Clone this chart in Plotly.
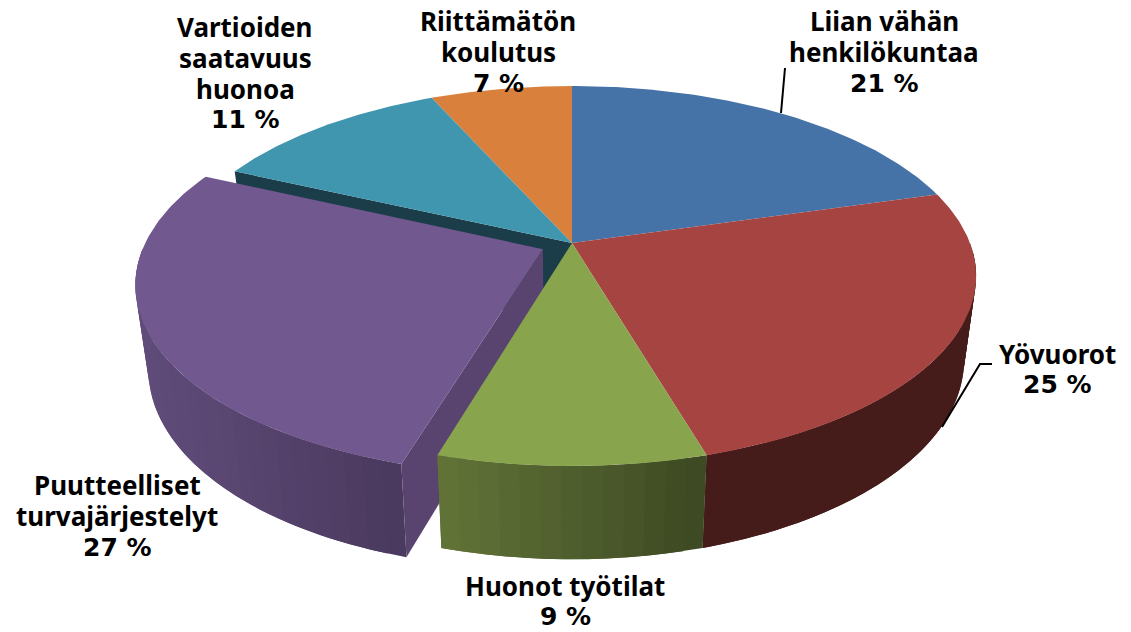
import numpy as np
import plotly.graph_objects as go

# slices, clockwise from 12 o'clock (unrounded shares)
names = [["Liian vähän", "henkilökuntaa"], ["Yövuorot"], ["Huonot työtilat"],
         ["Puutteelliset", "turvajärjestelyt"], ["Vartioiden", "saatavuus", "huonoa"],
         ["Riittämätön", "koulutus"]]
values = [20.55, 24.9, 9.1, 27.3, 11.45, 6.7]
pulls = [0, 0, 0, 0.08, 0, 0]
top_colors = ["#4572A7", "#A64442", "#88A44D", "#71588F", "#4096AE", "#D9813C"]

# wall shading, left end and right end as seen on screen
wall_colors = {1: ((70, 28, 26), (70, 28, 26)),
               2: ((98, 116, 56), (60, 72, 34)),
               3: ((96, 76, 122), (74, 57, 94))}
cut_colors = {3: "#58446F", 4: "#1B3D4A"}

label_pos = [(884, 52), (1057, 369), (565, 601), (117, 516), (245, 73), (498, 52)]
LINE_STEP = 31

# perspective of the pie
CX, CY = 572, 243
A, B, P = 398, 184.3, 0.1737
DEPTH, SHRINK = 82.6, 0.03


def project(u, v, z=0):
    # u, v on the unit circle of the pie, z=0 top face, z=1 bottom face
    w = 1 + P * v
    s = 1 - SHRINK * z
    return CX + s * A * u / w, CY + (-s * B * v + DEPTH * z) / w


def rim(a0, a1, pull_uv, z=0, n=80):
    t = np.linspace(a0, a1, n)
    return project(np.sin(t) + pull_uv[0], np.cos(t) + pull_uv[1], z)


def polygon(x, y, color):
    return go.Scatter(x=list(x), y=list(y), mode="lines", fill="toself", fillcolor=color,
                      line=dict(color=color, width=0), hoverinfo="skip", showlegend=False)


def mix(c0, c1, f):
    return "rgb({},{},{})".format(*[round(a + (b - a) * f) for a, b in zip(c0, c1)])


edges = np.cumsum([0] + values) / sum(values) * 2 * np.pi
slices = []
for i in range(len(values)):
    mid = (edges[i] + edges[i + 1]) / 2
    slices.append((edges[i], edges[i + 1], (pulls[i] * np.sin(mid), pulls[i] * np.cos(mid))))

fig = go.Figure()


def add_cut(i, angle):
    _, _, uv = slices[i]
    ax, ay = project(uv[0], uv[1], 0)
    bx, by = project(uv[0], uv[1], 1)
    tx, ty = project(np.sin(angle) + uv[0], np.cos(angle) + uv[1], 0)
    gx, gy = project(np.sin(angle) + uv[0], np.cos(angle) + uv[1], 1)
    fig.add_trace(polygon([ax, tx, gx, bx, ax], [ay, ty, gy, by, ay], cut_colors[i]))


def add_wall(i):
    a0, a1, uv = slices[i]
    # only the part of the rim facing the viewer
    a0, a1 = max(a0, np.pi / 2), min(a1, 3 * np.pi / 2)
    steps = max(2, int((a1 - a0) / np.radians(2.5)))
    t = np.linspace(a0, a1, steps + 1)
    x_all = project(np.sin(t) + uv[0], np.cos(t) + uv[1], 0)[0]
    x_min, x_max = x_all.min(), x_all.max()
    for j in range(steps):
        # every strip runs on under the next one so no seams show
        end = t[min(j + 2, steps)]
        tx, ty = rim(t[j], end, uv, 0, 8)
        bx, by = rim(end, t[j], uv, 1, 8)
        mid_x = project(np.sin(t[j] + (t[1] - t[0]) / 2) + uv[0], np.cos(t[j]) + uv[1], 0)[0]
        c = mix(wall_colors[i][0], wall_colors[i][1], (mid_x - x_min) / (x_max - x_min))
        fig.add_trace(polygon(np.r_[tx, bx, tx[0]], np.r_[ty, by, ty[0]], c))


def add_top(i):
    a0, a1, uv = slices[i]
    ax, ay = project(uv[0], uv[1], 0)
    rx, ry = rim(a0, a1, uv, 0, 120)
    fig.add_trace(polygon(np.r_[ax, rx, ax], np.r_[ay, ry, ay], top_colors[i]))


# painter's order, back to front
add_top(0)
add_top(5)
add_cut(4, slices[4][0])
add_top(4)
add_wall(1)
add_top(1)
add_wall(3)
add_cut(3, slices[3][0])
add_top(3)
add_wall(2)
add_top(2)

# labels, one annotation per line to keep the tight line spacing
for name, value, (lx, ly) in zip(names, values, label_pos):
    lines = name + [f"{round(value)} %"]
    for k, line in enumerate(lines):
        # the percent line has wider digits in the original font
        is_pct = k == len(lines) - 1
        fig.add_annotation(x=lx, y=ly + (k - (len(lines) - 1) / 2) * LINE_STEP,
                           text=f"<b>{line}</b>", showarrow=False,
                           xanchor="center", yanchor="middle",
                           font=dict(family="DejaVu Sans" if is_pct else "Noto Sans",
                                     size=25 if is_pct else 26, color="black"))

# leader lines
fig.add_shape(type="line", x0=781, y0=113, x1=785, y1=68, line=dict(color="black", width=2))
fig.add_shape(type="path", path="M 942 427 L 980 364 L 992 364", line=dict(color="black", width=2))

fig.update_xaxes(range=[0, 1131], visible=False)
fig.update_yaxes(range=[632, 0], visible=False)
fig.update_layout(width=1131, height=632, margin=dict(l=0, r=0, t=0, b=0),
                  paper_bgcolor="white", plot_bgcolor="white", showlegend=False)

fig.write_html("out.html", config=dict(displayModeBar=False),
               post_script="document.body.style.margin='0';")
